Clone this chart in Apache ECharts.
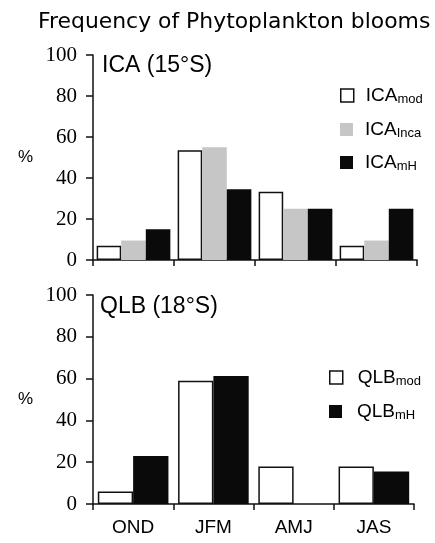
<!DOCTYPE html>
<html>
<head>
<meta charset="utf-8">
<script src="https://cdn.jsdelivr.net/npm/echarts@6/dist/echarts.min.js"></script>
<style>
html,body{margin:0;padding:0;background:#fff;}
#c{width:435px;height:543px;}
</style>
</head>
<body>
<div id="c"></div>
<script>
// ---- data ----
const categories = ['OND', 'JFM', 'AMJ', 'JAS'];
const yTicks = [0, 20, 40, 60, 80, 100];

const icaMod  = [7, 53.5, 33.3, 7];
const icaInca = [9.5, 55, 25, 9.5];
const icaMH   = [15, 34.5, 25, 25];

const qlbMod = [6, 59, 18, 18];
const qlbMH  = [23, 61.2, 0, 15.5];

const mainTitle = 'Frequency of Phytoplankton blooms';
const panelTitles = ['ICA (15°S)', 'QLB (18°S)'];
const icaNames = ['ICA', 'ICA', 'ICA'];
const icaSubs = ['mod', 'Inca', 'mH'];
const qlbNames = ['QLB', 'QLB'];
const qlbSubs = ['mod', 'mH'];
const yName = '%';

// ---- styles ----
const SANS = 'Liberation Sans';
const SERIF = 'Liberation Serif';
const WHITE = {color: '#ffffff', borderColor: '#111111', borderWidth: 1.5};
const GRAY = {color: '#c6c6c6'};
const BLACK = {color: '#0a0a0a'};

const grids = [
  {left: 93, top: 55, width: 324, height: 205},
  {left: 93, top: 295, width: 321, height: 209}
];

function xAxis(gi, showLabels) {
  return {
    type: 'category', gridIndex: gi, data: categories,
    axisLine: {lineStyle: {color: '#111', width: 1.5}},
    axisTick: {show: true, length: 6, lineStyle: {color: '#111', width: 1.5}},
    axisLabel: {show: showLabels, color: '#000', fontFamily: SANS, fontSize: 19, margin: 14},
    splitLine: {show: false}
  };
}
function yAxis(gi) {
  return {
    type: 'value', gridIndex: gi, min: yTicks[0], max: yTicks[yTicks.length - 1], interval: 20,
    name: yName, nameLocation: 'middle', nameRotate: 0, nameGap: 60,
    nameTextStyle: {color: '#000', fontFamily: SANS, fontSize: 17},
    axisLine: {show: true, lineStyle: {color: '#111', width: 1.5}},
    axisTick: {show: true, length: 7, lineStyle: {color: '#111', width: 1.5}},
    axisLabel: {color: '#000', fontFamily: SERIF, fontSize: 21, margin: 16},
    splitLine: {show: false}
  };
}

function bar(name, data, gi, style, gap) {
  return {
    type: 'bar', name: name, data: data, xAxisIndex: gi, yAxisIndex: gi,
    barGap: 0, barCategoryGap: gap, itemStyle: style, silent: true, animation: false
  };
}

const richText = (padLeft) => ({
  a: {fontFamily: SANS, fontSize: 19, color: '#000', lineHeight: 24, padding: [0, 0, 0, padLeft]},
  s: {fontFamily: SANS, fontSize: 13, color: '#000', lineHeight: 24, padding: [8, 0, 0, 0]}
});

function legendItem(name, base, sub, style, left, top, padLeft) {
  return {
    data: [{name: name, itemStyle: style}],
    left: left, top: top, padding: 0, icon: 'rect', itemWidth: 13, itemHeight: 13,
    selectedMode: false,
    formatter: () => '{a|' + base + '}{s|' + sub + '}',
    textStyle: {rich: richText(padLeft)}
  };
}

const icaStyles = [WHITE, GRAY, BLACK];
const qlbStyles = [WHITE, BLACK];
const icaSeriesNames = icaNames.map((b, i) => b + icaSubs[i]);
const qlbSeriesNames = qlbNames.map((b, i) => b + qlbSubs[i]);
const icaLegendTops = [85, 119, 152];
const qlbLegendTops = [367, 401];

const option = {
  backgroundColor: '#fff',
  animation: false,
  title: [
    {text: mainTitle, left: 38, top: 11, padding: 0,
     textStyle: {fontFamily: 'DejaVu Sans', fontSize: 21.9, fontWeight: 'normal', color: '#000', lineHeight: 22}},
    {text: panelTitles[0], left: 102, top: 54, padding: 0,
     textStyle: {fontFamily: SANS, fontSize: 23, fontWeight: 'normal', color: '#000', lineHeight: 23}},
    {text: panelTitles[1], left: 100, top: 295, padding: 0,
     textStyle: {fontFamily: SANS, fontSize: 23, fontWeight: 'normal', color: '#000', lineHeight: 23}}
  ],
  legend: [
    ...icaSeriesNames.map((n, i) => legendItem(n, icaNames[i], icaSubs[i], icaStyles[i], 340, icaLegendTops[i], 7)),
    ...qlbSeriesNames.map((n, i) => legendItem(n, qlbNames[i], qlbSubs[i], qlbStyles[i], 329, qlbLegendTops[i], 10))
  ],
  grid: grids,
  xAxis: [xAxis(0, false), xAxis(1, true)],
  yAxis: [yAxis(0), yAxis(1)],
  series: [
    bar(icaSeriesNames[0], icaMod, 0, WHITE, '9%'),
    bar(icaSeriesNames[1], icaInca, 0, GRAY, '9%'),
    bar(icaSeriesNames[2], icaMH, 0, BLACK, '9%'),
    bar(qlbSeriesNames[0], qlbMod, 1, WHITE, '12%'),
    bar(qlbSeriesNames[1], qlbMH, 1, BLACK, '12%')
  ]
};

const chart = echarts.init(document.getElementById('c'), null, {renderer: 'canvas'});
chart.setOption(option);
</script>
</body>
</html>
